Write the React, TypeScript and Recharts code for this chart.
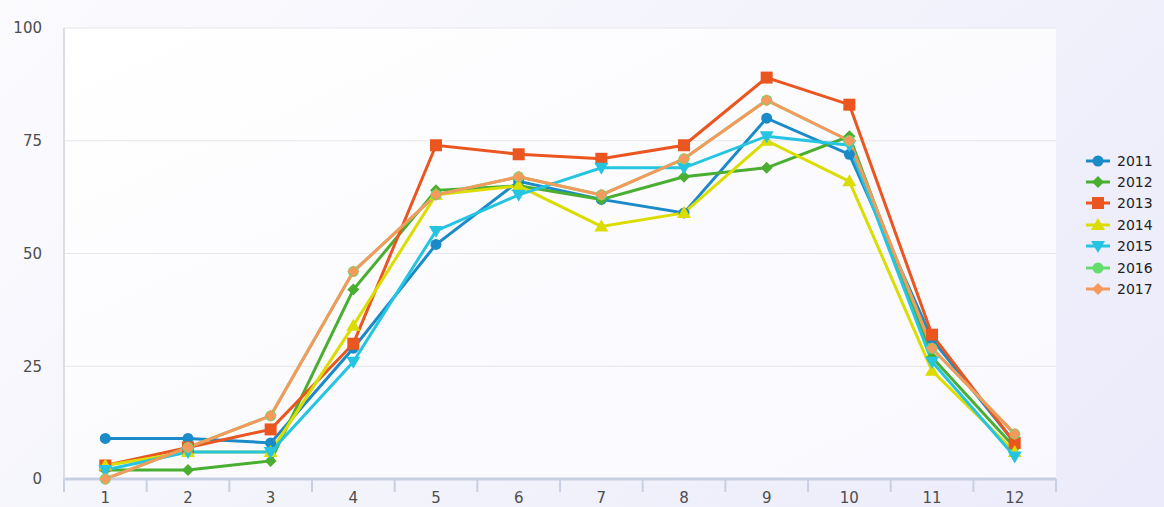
import React from 'react';
import { LineChart, Line, XAxis, YAxis, CartesianGrid, Legend } from 'recharts';

const months = ['1', '2', '3', '4', '5', '6', '7', '8', '9', '10', '11', '12'];

const y2011 = [9, 9, 8, 29, 52, 66, 62, 59, 80, 72, 31, 8];
const y2012 = [2, 2, 4, 42, 64, 65, 62, 67, 69, 76, 27, 7];
const y2013 = [3, 7, 11, 30, 74, 72, 71, 74, 89, 83, 32, 8];
const y2014 = [3, 6, 6, 34, 63, 65, 56, 59, 75, 66, 24, 6];
const y2015 = [2, 6, 6, 26, 55, 63, 69, 69, 76, 74, 26, 5];
const y2016 = [0, 7, 14, 46, 63, 67, 63, 71, 84, 75, 29, 10];
const y2017 = [0, 7, 14, 46, 63, 67, 63, 71, 84, 75, 29, 10];

const yTicks = [0, 25, 50, 75, 100];

const series = [
  { key: 'y2011', name: '2011', color: '#1a8ac8', shape: 'circle', values: y2011 },
  { key: 'y2012', name: '2012', color: '#4aae30', shape: 'diamond', values: y2012 },
  { key: 'y2013', name: '2013', color: '#ea5520', shape: 'square', values: y2013 },
  { key: 'y2014', name: '2014', color: '#dbdd00', shape: 'triangle', values: y2014 },
  { key: 'y2015', name: '2015', color: '#25c5e2', shape: 'triangleDown', values: y2015 },
  { key: 'y2016', name: '2016', color: '#66dc6e', shape: 'circle', values: y2016 },
  { key: 'y2017', name: '2017', color: '#f5995c', shape: 'diamond', values: y2017 },
];

const data = months.map((m, i) => {
  const row: Record<string, string | number> = { month: m };
  series.forEach((s) => {
    row[s.key] = s.values[i];
  });
  return row;
});

const FONT = '"DejaVu Sans", "Open Sans", sans-serif';

function Marker({ shape, cx, cy, color }: { shape: string; cx: number; cy: number; color: string }) {
  if (shape === 'circle') return <circle cx={cx} cy={cy} r={5.5} fill={color} />;
  if (shape === 'square') return <rect x={cx - 6} y={cy - 6} width={12} height={12} fill={color} />;
  if (shape === 'diamond')
    return <polygon points={`${cx},${cy - 6} ${cx + 6},${cy} ${cx},${cy + 6} ${cx - 6},${cy}`} fill={color} />;
  if (shape === 'triangle')
    return <polygon points={`${cx},${cy - 7} ${cx + 7},${cy + 5} ${cx - 7},${cy + 5}`} fill={color} />;
  return <polygon points={`${cx},${cy + 7} ${cx + 7},${cy - 5} ${cx - 7},${cy - 5}`} fill={color} />;
}

// half band: tick marks sit between the category labels
const HALF = 41.3;

function MonthTick(props: any) {
  const { x, y, payload, index } = props;
  return (
    <g>
      <line x1={x - HALF} y1={y} x2={x - HALF} y2={y + 13} stroke='#c9cfe2' strokeWidth={2} />
      {index === months.length - 1 && (
        <line x1={x + HALF} y1={y} x2={x + HALF} y2={y + 13} stroke='#c9cfe2' strokeWidth={2} />
      )}
      <text x={x} y={y + 19} textAnchor='middle' dominantBaseline='central' fill='#4d4d4d' fontSize={15} fontFamily={FONT}>
        {payload.value}
      </text>
    </g>
  );
}

function LegendBox() {
  return (
    <div style={{ fontFamily: FONT, fontSize: 14, color: '#222' }}>
      {series.map((s) => (
        <div key={s.key} style={{ display: 'flex', alignItems: 'center', height: 21.4 }}>
          <svg width={28} height={16} style={{ marginRight: 5 }}>
            <line x1={2} y1={8} x2={26} y2={8} stroke={s.color} strokeWidth={3} />
            <Marker shape={s.shape} cx={14} cy={8} color={s.color} />
          </svg>
          <span>{s.name}</span>
        </div>
      ))}
    </div>
  );
}

export default function App() {
  return (
    <div
      style={{
        position: 'absolute',
        left: 0,
        top: 0,
        width: 1164,
        height: 507,
        background: 'linear-gradient(135deg, #fbfbfe 0%, #f3f3fc 50%, #ebebfb 100%)',
      }}
    >
      <LineChart width={1164} height={507} data={data} margin={{ top: 28, right: 108, bottom: 0, left: 8 }}>
        <defs>
          <linearGradient id='plotBg' x1='0' y1='0' x2='1' y2='1'>
            <stop offset='0%' stopColor='#ffffff' />
            <stop offset='100%' stopColor='#f8f8fe' />
          </linearGradient>
        </defs>
        <CartesianGrid vertical={false} stroke='#e6e6ea' fill='url(#plotBg)' />
        <XAxis
          dataKey='month'
          padding={{ left: HALF, right: HALF }}
          axisLine={{ stroke: '#c9cfe2', strokeWidth: 3 }}
          tickLine={false}
          tickSize={0}
          tickMargin={0}
          tick={<MonthTick />}
          interval={0}
          height={28}
        />
        <YAxis
          domain={[0, 100]}
          ticks={yTicks}
          width={56}
          axisLine={{ stroke: '#dcdce2', strokeWidth: 2 }}
          tickLine={false}
          tickSize={0}
          tickMargin={22}
          tick={{ fill: '#4d4d4d', fontSize: 15, fontFamily: FONT }}
        />
        <YAxis
          yAxisId='right'
          orientation='right'
          domain={[0, 100]}
          width={0}
          tick={false}
          tickLine={false}
          axisLine={{ stroke: '#c8c8d2', strokeWidth: 2 }}
        />
        {series.map((s) => (
          <Line
            key={s.key}
            dataKey={s.key}
            name={s.name}
            stroke={s.color}
            strokeWidth={3}
            isAnimationActive={false}
            dot={(p: any) => <Marker key={p.index} shape={s.shape} cx={p.cx} cy={p.cy} color={s.color} />}
            activeDot={false}
          />
        ))}
        <Legend
          layout='horizontal'
          verticalAlign='middle'
          content={<LegendBox />}
          wrapperStyle={{ left: 1084, top: 150, width: 80 }}
        />
      </LineChart>
    </div>
  );
}
